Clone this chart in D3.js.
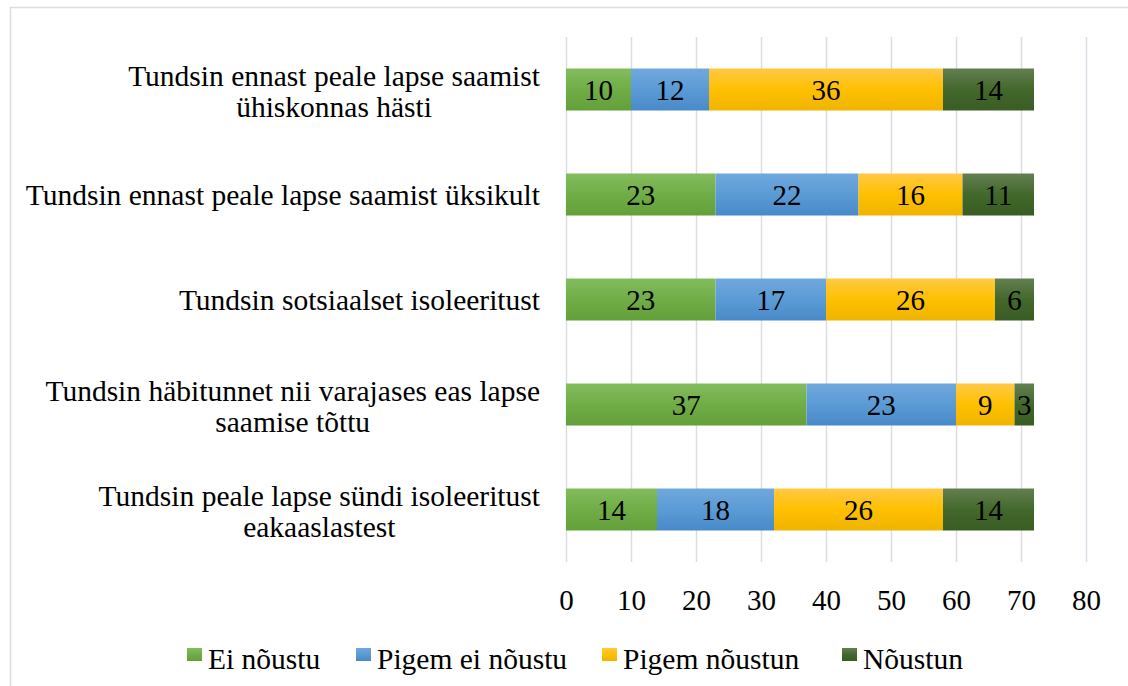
<!DOCTYPE html>
<html><head><meta charset="utf-8">
<script src="https://cdn.jsdelivr.net/npm/d3@7"></script>
<style>body{margin:0;background:#fff;} svg{display:block;}</style>
</head><body>
<svg id="c" width="1128" height="686"></svg>
<script>
const categories = [
  ["Tundsin ennast peale lapse saamist", "ühiskonnas hästi"],
  ["Tundsin ennast peale lapse saamist üksikult"],
  ["Tundsin sotsiaalset isoleeritust"],
  ["Tundsin häbitunnet nii varajases eas lapse", "saamise tõttu"],
  ["Tundsin peale lapse sündi isoleeritust", "eakaaslastest"]
];
const seriesNames = ["Ei nõustu", "Pigem ei nõustu", "Pigem nõustun", "Nõustun"];
const eiNoustu = [10, 23, 23, 37, 14];
const pigemEiNoustu = [12, 22, 17, 23, 18];
const pigemNoustun = [36, 16, 26, 9, 26];
const noustun = [14, 11, 6, 3, 14];
const xTicks = [0, 10, 20, 30, 40, 50, 60, 70, 80];
const colors = [
  ["#83bc5e", "#70ad47", "#63a038"],
  ["#70a8dd", "#5b9bd5", "#4889c8"],
  ["#ffc944", "#ffc000", "#efb400"],
  ["#647f52", "#43682b", "#385c22"]
];

const series = [eiNoustu, pigemEiNoustu, pigemNoustun, noustun];
const svg = d3.select("#c");
const font = "'Liberation Serif','Times New Roman',serif";

// frame
svg.append("path").attr("d", "M10.5,686 V7.5 H1128").attr("fill", "none").attr("stroke", "#dadde3").attr("stroke-width", 1.5);

const defs = svg.append("defs");
colors.forEach((c, i) => {
  const g = defs.append("linearGradient").attr("id", "g" + i).attr("x1", 0).attr("y1", 0).attr("x2", 0).attr("y2", 1);
  g.append("stop").attr("offset", "0%").attr("stop-color", c[0]);
  g.append("stop").attr("offset", "50%").attr("stop-color", c[1]);
  g.append("stop").attr("offset", "100%").attr("stop-color", c[2]);
});

const x = d3.scaleLinear().domain([0, 80]).range([566, 1086]);
const y = d3.scaleBand().domain(d3.range(categories.length)).range([37, 562]).paddingInner(0.6).paddingOuter(0.3);

// gridlines
svg.append("g").selectAll("line").data(xTicks).join("line")
  .attr("x1", d => Math.round(x(d)) + 0.5).attr("x2", d => Math.round(x(d)) + 0.5)
  .attr("y1", 37).attr("y2", 562)
  .attr("stroke", "#dadde3").attr("stroke-width", 1.5);

// stacked bars
const stackData = categories.map((c, i) => {
  let acc = 0;
  return series.map((s, k) => { const v = s[i]; const r = {i, k, x0: acc, x1: acc + v, v}; acc += v; return r; });
}).flat();

svg.append("g").selectAll("rect").data(stackData).join("rect")
  .attr("x", d => x(d.x0)).attr("width", d => x(d.x1) - x(d.x0))
  .attr("y", d => y(d.i)).attr("height", y.bandwidth())
  .attr("fill", d => `url(#g${d.k})`);

svg.append("g").selectAll("text").data(stackData).join("text")
  .attr("x", d => (x(d.x0) + x(d.x1)) / 2).attr("y", d => y(d.i) + y.bandwidth() / 2 + 10)
  .attr("text-anchor", "middle").attr("font-family", font).attr("font-size", 29).attr("fill", "#000")
  .text(d => d.v);

// category labels (block right-aligned, lines centered within block)
const lab = svg.append("g");
categories.forEach((lines, i) => {
  const cy = y(i) + y.bandwidth() / 2;
  const lh = 31;
  const g = lab.append("g");
  const texts = lines.map((l, j) => g.append("text").attr("text-anchor", "middle")
    .attr("font-family", font).attr("font-size", 29.5).attr("fill", "#000")
    .attr("y", lines.length === 1 ? cy + 10 : cy - 4 + j * lh).text(l));
  const w = d3.max(texts, t => t.node().getComputedTextLength());
  texts.forEach(t => t.attr("x", 540 - w / 2));
});

// x axis labels
const xAxis = d3.axisBottom(x).tickValues(xTicks).tickSize(0).tickPadding(0);
const ax = svg.append("g").attr("transform", "translate(0,589)").call(xAxis);
ax.select(".domain").remove();
ax.selectAll("text").attr("font-family", font).attr("font-size", 29).attr("fill", "#000");

// legend
const legX = [187, 356, 602, 842];
const leg = svg.append("g");
seriesNames.forEach((n, k) => {
  leg.append("rect").attr("x", legX[k]).attr("y", 648).attr("width", 15).attr("height", 13).attr("fill", `url(#g${k})`);
  leg.append("text").attr("x", legX[k] + 21).attr("y", 669).attr("font-family", font).attr("font-size", 29.5)
    .attr("fill", "#000").text(n);
});
</script>
</body></html>
